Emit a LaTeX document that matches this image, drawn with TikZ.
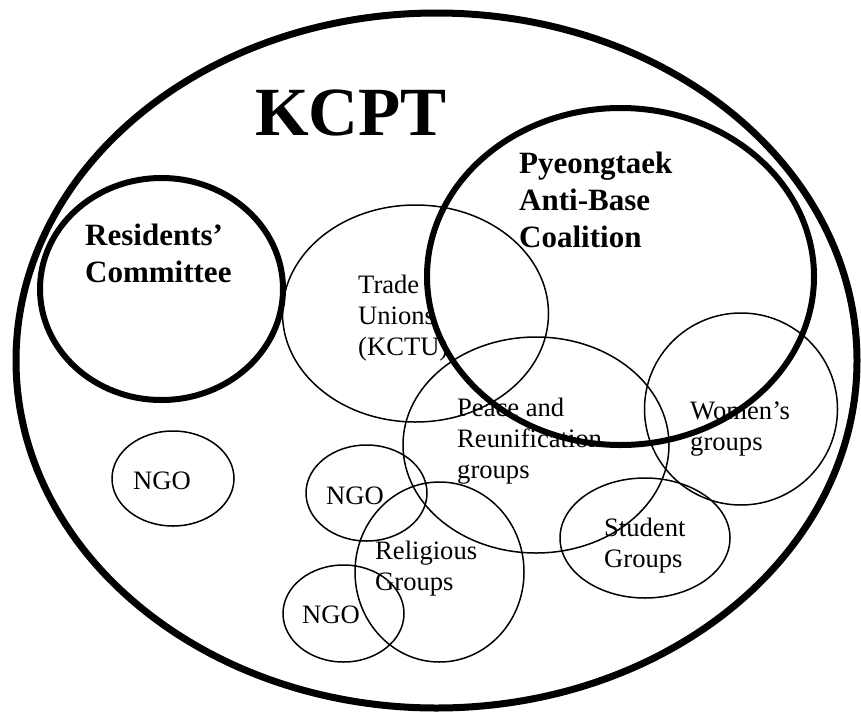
\documentclass[tikz,border=0pt]{standalone}
\usepackage{fontspec}
\setmainfont{Liberation Serif}
\usetikzlibrary{shapes.geometric}

\begin{document}
\begin{tikzpicture}[x=1pt, y=-1pt]
    \tikzset{group/.style={draw, ellipse, inner sep=0pt, line width=1.5pt},
             bold group/.style={draw, ellipse, inner sep=0pt, line width=6pt},
             small text/.style={anchor=base west, inner sep=0pt, align=left, font=\fontsize{26.6}{31}\selectfont},
             big text/.style={anchor=base west, inner sep=0pt, align=left, font=\fontsize{31}{37}\selectfont\bfseries}}
    \useasboundingbox (0,0) rectangle (861,715);
    \node[draw, ellipse, inner sep=0pt, line width=7pt, minimum width=841pt, minimum height=695pt] (kcpt) at (436.5,360.5) {};
    \node[bold group, minimum width=243pt, minimum height=222pt] (residents) at (161.5,289) {};
    \node[group, minimum width=266pt, minimum height=217pt] (unions) at (415.5,313.5) {};
    \node[group, minimum width=266pt, minimum height=216pt] (peace) at (536,445) {};
    \node[group, minimum width=193pt, minimum height=192pt] (women) at (741,409) {};
    \node[group, minimum width=170pt, minimum height=120pt] (students) at (645,538) {};
    \node[group, minimum width=169pt, minimum height=180pt] (religious) at (439.5,572) {};
    \node[group, minimum width=122pt, minimum height=95pt] (ngo1) at (173,478.5) {};
    \node[group, minimum width=121pt, minimum height=96pt] (ngo2) at (366.5,493) {};
    \node[group, minimum width=121pt, minimum height=97pt] (ngo3) at (343.5,613.5) {};
    \node[anchor=base west, inner sep=0pt, font=\fontsize{69}{80}\selectfont\bfseries] (kcpt label) at (255,135) {KCPT};
    \node[big text] (residents label) at (85,282) {Residents’\\Committee};
    \node[big text] (coalition label) at (519,247) {Pyeongtaek\\Anti-Base\\Coalition};
    \node[small text] (unions label) at (358,355) {Trade\\Unions\\(KCTU)};
    \node[small text] (peace label) at (457,478) {Peace and\\Reunification\\groups};
    \node[small text] (women label) at (690,450) {Women’s\\groups};
    \node[small text] (students label) at (604,567) {Student\\Groups};
    \node[small text] (religious label) at (375,590) {Religious\\Groups};
    \node[small text] (ngo1 label) at (133,489) {NGO};
    \node[small text] (ngo2 label) at (326,504) {NGO};
    \node[small text] (ngo3 label) at (302,623) {NGO};
    \node[bold group, minimum width=387pt, minimum height=337pt] (coalition) at (620.5,276.5) {};
\end{tikzpicture}
\end{document}
